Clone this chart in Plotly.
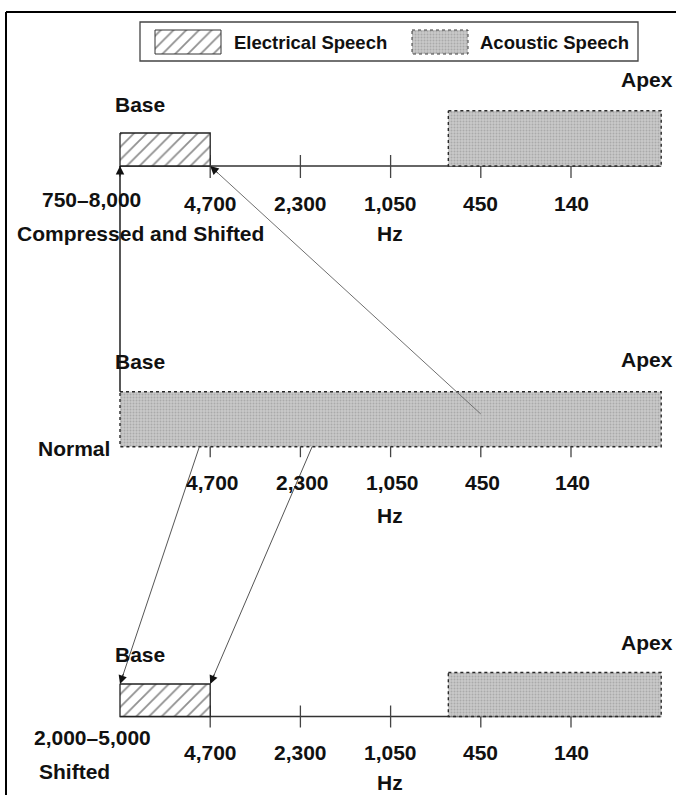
import plotly.graph_objects as go

# ---------------- data ----------------
tick_labels = ["4,700", "2,300", "1,050", "450", "140"]   # Hz, base -> apex
tick_units = [1, 2, 3, 4, 5]                                 # position along cochlea (tick index)
cochlea_extent = [0, 6]                                      # base .. apex
electrical_band = [0, 1]                                     # base .. 4,700 tick
acoustic_band = [3.64, 6]                                    # residual low-frequency hearing
normal_band = [0, 6]
range_labels = ["750–8,000", "2,000–5,000"]
panel_titles = ["Compressed and Shifted", "Normal", "Shifted"]
arrow_sources = [4.0, 0.88, 2.13]                            # where mapping arrows start (tick units)
legend_names = ["Electrical Speech", "Acoustic Speech"]

# ---------------- layout helpers ----------------
W, H = 676, 795
X0, SCALE = 120.0, 90.2
def u(px):
    return (px - X0) / SCALE

FONT = "Liberation Sans, Arial, sans-serif"
INK = "#111111"
LINE = "#333333"

TOP_AXIS, TOP_ELEC, TOP_ACOU = 166, 133, 110.7
MID_TOP, MID_BOT = 391.7, 446.7
BOT_AXIS, BOT_ELEC, BOT_ACOU = 716.5, 684, 672.5

HATCH = dict(shape="/", fgcolor="#222222", bgcolor="white", size=9, solidity=0.2)
DOTS = dict(shape=".", fgcolor="#8c8c8c", bgcolor="#c9c9c9", size=3, solidity=0.35)

fig = go.Figure()

def box(x0, x1, y0, y1, pattern, lc, lw=1.3, dash="solid"):
    fig.add_trace(go.Scatter(
        x=[x0, x1, x1, x0, x0], y=[y0, y0, y1, y1, y0],
        mode="lines", fill="toself", fillpattern=pattern,
        fillcolor=pattern["bgcolor"],
        line=dict(color=lc, width=lw, dash=dash),
        hoverinfo="skip", showlegend=False))

def seg(xs, ys, color=LINE, width=1.3):
    fig.add_trace(go.Scatter(x=xs, y=ys, mode="lines",
                             line=dict(color=color, width=width),
                             hoverinfo="skip", showlegend=False))

def ticks(yline, up, down):
    xs, ys = [], []
    for t in tick_units:
        xs += [t, t, None]
        ys += [yline - up, yline + down, None]
    seg(xs, ys, color="#444444", width=1.3)

def txt(x, y, s, size=21, xanchor="center"):
    fig.add_annotation(x=x, y=y, text=s, showarrow=False, xanchor=xanchor,
                       yanchor="middle",
                       font=dict(family=FONT, size=size, color=INK, weight="bold"))

# ---------------- top panel: compressed and shifted ----------------
seg(cochlea_extent, [TOP_AXIS, TOP_AXIS])
ticks(TOP_AXIS, 11, 12)
box(electrical_band[0], electrical_band[1], TOP_ELEC, TOP_AXIS, HATCH, "#222222")
box(acoustic_band[0], acoustic_band[1], TOP_ACOU, TOP_AXIS, DOTS, "#2a2a2a", 1.4, "dot")
for t, lab in zip(tick_units, tick_labels):
    txt(t, 203, lab)
txt(u(140), 104, "Base")
txt(u(647), 79, "Apex")
txt(u(91), 199, range_labels[0])
txt(u(140), 233, panel_titles[0])
txt(u(390), 233, "Hz")

# ---------------- middle panel: normal ----------------
box(normal_band[0], normal_band[1], MID_TOP, MID_BOT, DOTS, "#2a2a2a", 1.4, "dot")
ticks(MID_BOT, 0, 10.5)
for t, lab in zip(tick_units, tick_labels):
    txt(t + 0.02, 482, lab)
txt(u(140), 361, "Base")
txt(u(647), 359, "Apex")
txt(u(74), 448, panel_titles[1])
txt(u(390), 515, "Hz")

# ---------------- bottom panel: shifted ----------------
seg(cochlea_extent, [BOT_AXIS, BOT_AXIS])
ticks(BOT_AXIS, 11, 11)
box(electrical_band[0], electrical_band[1], BOT_ELEC, BOT_AXIS, HATCH, "#222222")
box(acoustic_band[0], acoustic_band[1], BOT_ACOU, BOT_AXIS, DOTS, "#2a2a2a", 1.4, "dot")
for t, lab in zip(tick_units, tick_labels):
    txt(t, 752, lab)
txt(u(140), 654, "Base")
txt(u(647), 642, "Apex")
txt(u(92), 737, range_labels[1])
txt(u(74), 771, panel_titles[2])
txt(u(390), 782, "Hz")

# ---------------- mapping arrows ----------------
def arrow(x_tail, y_tail, x_head, y_head, color, width):
    seg([x_tail, x_head], [y_tail, y_head], color=color, width=width)
    dxp = (x_head - x_tail) * SCALE
    dyp = (y_head - y_tail)
    n = (dxp ** 2 + dyp ** 2) ** 0.5
    L = 12.0
    fig.add_annotation(x=x_head, y=y_head, ax=-dxp / n * L, ay=-dyp / n * L,
                       axref="pixel", ayref="pixel", text="", showarrow=True,
                       arrowhead=2, arrowsize=1.7, arrowwidth=1,
                       arrowcolor="#111111")

# vertical: normal base -> compressed base
arrow(electrical_band[0], MID_TOP, electrical_band[0], TOP_AXIS, "#111111", 1.4)
# 450 Hz place in normal -> 4,700 edge of compressed band
arrow(arrow_sources[0], 414, electrical_band[1], TOP_AXIS, "#707070", 1.0)
# normal band -> shifted band edges
arrow(arrow_sources[1], MID_BOT, electrical_band[0], BOT_ELEC, "#555555", 1.0)
arrow(arrow_sources[2], MID_BOT, electrical_band[1], BOT_ELEC, "#555555", 1.0)

# ---------------- legend ----------------
fig.add_shape(type="rect", x0=u(140), x1=u(638), y0=22, y1=61,
              line=dict(color="#444444", width=1.3), fillcolor="rgba(0,0,0,0)")
box(u(155), u(221), 30, 54, HATCH, "#333333", 1.0)
box(u(412), u(468), 30, 54, DOTS, "#3a3a3a", 1.0, "dot")
txt(u(232), 42, legend_names[0], size=18.5, xanchor="left")
txt(u(478), 42, legend_names[1], size=18.5, xanchor="left")

# ---------------- outer frame ----------------
seg([u(6), u(676)], [12, 12], color="#000000", width=2)
seg([u(6), u(6)], [12, 795], color="#000000", width=2)

fig.update_layout(
    width=W, height=H, autosize=False,
    margin=dict(l=0, r=0, t=0, b=0),
    paper_bgcolor="white", plot_bgcolor="white",
    xaxis=dict(range=[u(0), u(W)], visible=False, fixedrange=True),
    yaxis=dict(range=[H, 0], visible=False, fixedrange=True),
    showlegend=False,
)

fig.write_html("out.html", config={"displayModeBar": False},
               post_script="document.body.style.margin='0';document.body.style.overflow='hidden';")
